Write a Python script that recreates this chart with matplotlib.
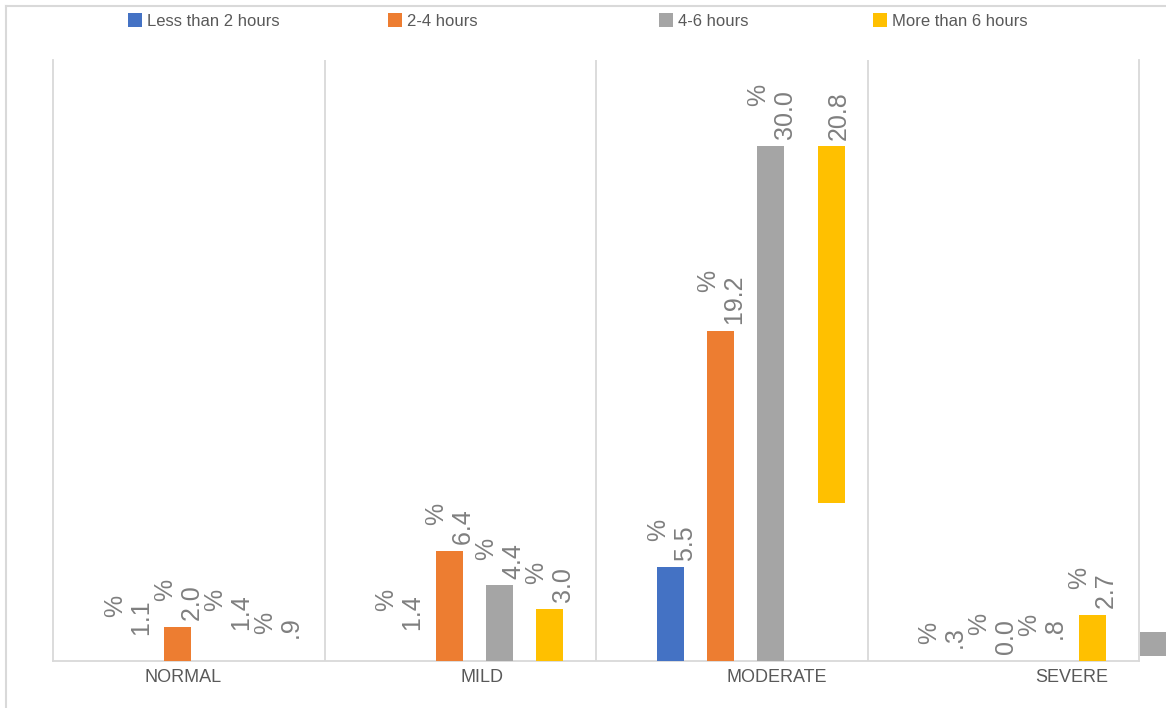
import matplotlib
matplotlib.use("Agg")
import matplotlib.pyplot as plt
from matplotlib.patches import Patch
from matplotlib.lines import Line2D

plt.rcParams['font.family'] = ['Liberation Sans', 'DejaVu Sans']

# ---- data ----
categories = ["NORMAL", "MILD", "MODERATE", "SEVERE"]
series_names = ["Less than 2 hours", "2-4 hours", "4-6 hours", "More than 6 hours"]
less_than_2 = [1.1, 1.4, 5.5, 0.3]
hours_2_4 = [2.0, 6.4, 19.2, 0.0]
hours_4_6 = [1.4, 4.4, 30.0, 0.8]
more_than_6 = [0.9, 3.0, 20.8, 2.7]
series_values = [less_than_2, hours_2_4, hours_4_6, more_than_6]

# which bars are actually rendered in the reference picture
bar_drawn = [
    [False, False, True, False],
    [True, True, True, False],
    [False, True, True, False],
    [False, True, True, True],
]
# bars rendered with a raised base / nudged sideways in the reference
bar_base = [
    [0, 0, 0, 0],
    [0, 0, 0, 0],
    [0, 0, 0, 0],
    [0, 0, 9.2, 0],
]
bar_nudge = [
    [0, 0, 0, 0],
    [0, 0, 0, 0],
    [0, 0, 0, 0],
    [0, 0, 0.038, 0],
]
# "%" sign not visible for this label in the reference
pct_hidden = {(3, 2)}
# stray gray block beyond the right edge of the plot
stray_value, stray_base = 1.4, 0.3

colors = ["#4472C4", "#ED7D31", "#A5A5A5", "#FFC000"]
label_color = "#7F7F7F"
text_color = "#595959"
grid_color = "#D9D9D9"

W, H, DPI = 1166, 708, 100
fig = plt.figure(figsize=(W / DPI, H / DPI), dpi=DPI)
ax = fig.add_axes([53 / W, (H - 661) / H, (1139 - 53) / W, (661 - 60) / H])

n = len(categories)
bar_w = 0.0995
spacing = 0.184
group_shift = 0.052


def fmt(v):
    s = f"{v:.1f}"
    if 0 < v < 1:
        s = s[1:]
    return s


for j, vals in enumerate(series_values):
    for i, v in enumerate(vals):
        x = i + (j - 1.5) * spacing + group_shift + bar_nudge[j][i]
        base = bar_base[j][i]
        if bar_drawn[j][i]:
            ax.bar(x, v, width=bar_w, bottom=base, color=colors[j], linewidth=0, zorder=3)
        num = fmt(v)
        if (j, i) in pct_hidden:
            txt = num
            dx = 8
        else:
            txt = "%\n" + num + " "
            dx = 1
        ax.annotate(txt, xy=(x, base + v), xytext=(dx, 6), textcoords="offset pixels",
                    rotation=90, ha="center", va="bottom", multialignment="right",
                    fontsize=18, color=label_color, linespacing=1.2, zorder=4,
                    annotation_clip=False)

# stray gray block
ax.bar(n - 0.5 + 0.053, stray_value, width=bar_w, bottom=stray_base,
       color=colors[2], linewidth=0, clip_on=False, zorder=3)

ax.set_xlim(-0.5, n - 0.5)
ax.set_ylim(0, 35)
ax.set_yticks([])

label_shift = [-0.02, 0.08, 0.167, 0.253]
ax.set_xticks([i + label_shift[i] for i in range(n)])
ax.set_xticklabels(categories, fontsize=13, color=text_color)
ax.tick_params(axis="x", length=0, pad=6)

for k in range(1, n):
    ax.axvline(k - 0.5, color=grid_color, lw=1.3, zorder=1)
for side in ["left", "right", "bottom"]:
    ax.spines[side].set_color(grid_color)
    ax.spines[side].set_linewidth(1.3)
ax.spines["top"].set_visible(False)

# chart-area border (only top and left are inside the picture)
fig.lines.append(Line2D([6 / W, 1.0], [1 - 6 / H, 1 - 6 / H], transform=fig.transFigure,
                        color=grid_color, lw=1.5))
fig.lines.append(Line2D([6 / W, 6 / W], [0.0, 1 - 6 / H], transform=fig.transFigure,
                        color=grid_color, lw=1.5))

# legend entries
legend_x = [128, 388, 659, 873]
for j, name in enumerate(series_names):
    fig.legend(handles=[Patch(facecolor=colors[j], edgecolor="none")], labels=[name],
               loc="center left", bbox_to_anchor=(legend_x[j] / W, 1 - 21 / H),
               frameon=False, fontsize=12, labelcolor=text_color,
               handlelength=0.85, handleheight=0.85, handletextpad=0.3,
               borderpad=0, borderaxespad=0)

fig.savefig("out.png", dpi=DPI)
